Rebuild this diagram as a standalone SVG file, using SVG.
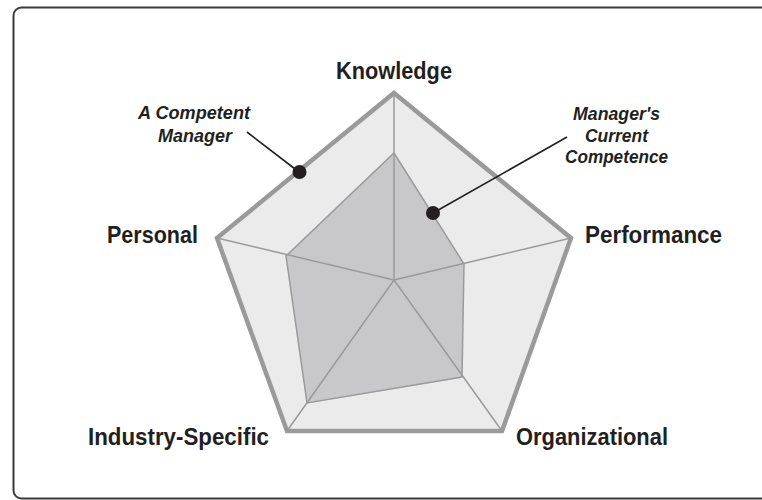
<svg xmlns="http://www.w3.org/2000/svg" width="762" height="500" viewBox="0 0 762 500">
<style>
.lbl{font-family:"Liberation Sans",Arial,sans-serif;font-weight:bold;font-size:23px;fill:#231f20}
.note{font-family:"Liberation Sans",Arial,sans-serif;font-weight:bold;font-style:italic;font-size:19px;fill:#231f20}
.outer{fill:#ebebeb;stroke:#9a9a9a;stroke-width:4.5;stroke-linejoin:miter}
.inner{fill:#c8c8ca;stroke:#9a9a9a;stroke-width:1.5;stroke-linejoin:miter}
.spoke{stroke:#9a9a9a;stroke-width:1.5;fill:none}
.leader{stroke:#231f20;stroke-width:1.6;fill:none}
.dot{fill:#231f20}
</style>
<rect x="13.5" y="7.5" width="800" height="491" rx="8" fill="#fff" stroke="#3a3a3a" stroke-width="2"/>
<g id="chart">
<polygon id="outer" class="outer" points="394,93 571,238 502,431 287,431 217,238"/>
<polygon id="inner" class="inner" points="394,153 464,264 462,377 307,403 286,256"/>
<g id="spokes">
<line class="spoke" x1="394" y1="280" x2="394" y2="93"/>
<line class="spoke" x1="394" y1="280" x2="571" y2="238"/>
<line class="spoke" x1="394" y1="280" x2="502" y2="431"/>
<line class="spoke" x1="394" y1="280" x2="287" y2="431"/>
<line class="spoke" x1="394" y1="280" x2="217" y2="238"/>
</g>
</g>
<g id="axis-labels">
<g id="knowledge"><text class="lbl" x="336" y="79" textLength="116" lengthAdjust="spacingAndGlyphs">Knowledge</text></g>
<g id="personal"><text class="lbl" x="107" y="243" textLength="91" lengthAdjust="spacingAndGlyphs">Personal</text></g>
<g id="performance"><text class="lbl" x="585" y="243" textLength="137" lengthAdjust="spacingAndGlyphs">Performance</text></g>
<g id="industry"><text class="lbl" x="88" y="445" textLength="181" lengthAdjust="spacingAndGlyphs">Industry-Specific</text></g>
<g id="organizational"><text class="lbl" x="516" y="445" textLength="152" lengthAdjust="spacingAndGlyphs">Organizational</text></g>
</g>
<g id="connectors">
<line class="leader" x1="247" y1="132" x2="299" y2="172"/>
<line class="leader" x1="567" y1="137" x2="433" y2="213"/>
<circle class="dot" cx="299.5" cy="172" r="7"/>
<circle class="dot" cx="433" cy="213" r="7"/>
</g>
<g id="competent-manager">
<text class="note" x="138" y="119" textLength="112" lengthAdjust="spacingAndGlyphs">A Competent</text>
<text class="note" x="158" y="142" textLength="74" lengthAdjust="spacingAndGlyphs">Manager</text>
</g>
<g id="current-competence">
<text class="note" x="573" y="120" textLength="87" lengthAdjust="spacingAndGlyphs">Manager's</text>
<text class="note" x="585" y="142" textLength="63" lengthAdjust="spacingAndGlyphs">Current</text>
<text class="note" x="565" y="163" textLength="103" lengthAdjust="spacingAndGlyphs">Competence</text>
</g>
</svg>
